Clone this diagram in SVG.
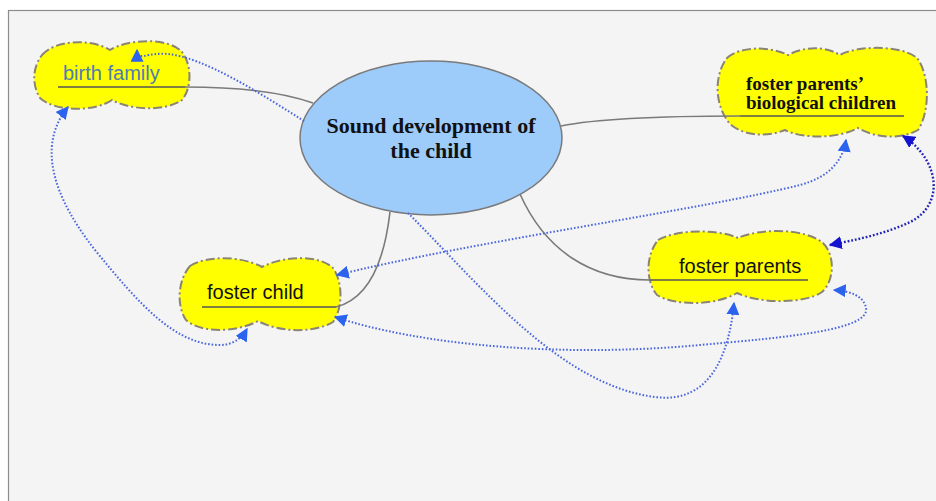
<svg xmlns="http://www.w3.org/2000/svg" width="936" height="501" viewBox="0 0 936 501">
<style>
.cloud{fill:#ffff00;stroke:#8a8474;stroke-width:2;stroke-dasharray:9 3 2 3}
.solid{fill:none;stroke:#7a7a7a;stroke-width:1.6}
.under{fill:none;stroke:#555;stroke-width:1.4}
.dot{fill:none;stroke:#4a66dd;stroke-width:2;stroke-dasharray:1.6 1.9;marker-end:url(#ab);marker-start:url(#ab)}
.dotdark{fill:none;stroke:#2323b8;stroke-width:2.4;stroke-dasharray:1.8 1.9;marker-end:url(#ad);marker-start:url(#ad)}
.sans{font-family:"Liberation Sans",Arial,sans-serif;font-size:20px;fill:#111}
.serif{font-family:"Liberation Serif","Times New Roman",serif;font-weight:bold;fill:#111}
</style>
<defs>
<marker id="ab" viewBox="0 0 10 10" refX="9" refY="5" markerWidth="13" markerHeight="13" markerUnits="userSpaceOnUse" orient="auto-start-reverse"><path d="M0,0 L10,5 L0,10 Z" fill="#2b62ee"/></marker>
<marker id="ad" viewBox="0 0 10 10" refX="9" refY="5" markerWidth="13" markerHeight="13" markerUnits="userSpaceOnUse" orient="auto-start-reverse"><path d="M0,0 L10,5 L0,10 Z" fill="#1212d0"/></marker>
</defs>
<rect x="0" y="0" width="936" height="501" fill="#ffffff"/>
<rect x="8.5" y="10.5" width="940" height="500" fill="#f4f4f4" stroke="#8c8c8c" stroke-width="1.2"/>

<g id="center">
<ellipse cx="431" cy="138" rx="131" ry="77" fill="#9dcbfa" stroke="#7a7a7a" stroke-width="1.5"/>
<text class="serif" font-size="22" x="431" y="133" text-anchor="middle">Sound development of</text>
<text class="serif" font-size="22" x="431" y="158" text-anchor="middle">the child</text>
</g>

<g id="birth-family">
<path class="cloud" d="M 42,55 C 55,40 90,38 110,50 C 130,38 170,38 182,52 C 192,65 192,88 182,100 C 165,112 130,110 112,100 C 95,112 55,112 40,98 C 32,85 32,68 42,55 Z"/>
<text class="sans" font-size="19" x="63" y="80" style="fill:#4f7bb5">birth family</text>
</g>

<g id="bio-children">
<path class="cloud" d="M 727,58 C 740,46 770,46 788,55 C 805,46 825,46 840,55 C 855,46 900,44 917,58 C 930,75 930,112 918,130 C 900,140 875,138 858,128 C 835,140 800,138 785,130 C 765,138 742,135 730,124 C 714,105 714,75 727,58 Z"/>
<text class="serif" font-size="19" x="746" y="90">foster parents’</text>
<text class="serif" font-size="19" x="746" y="109">biological children</text>
</g>

<g id="foster-child">
<path class="cloud" d="M 190,266 C 205,256 240,255 262,267 C 285,255 320,255 333,268 C 343,282 343,308 333,322 C 315,333 280,333 258,321 C 235,333 200,333 186,320 C 176,305 178,280 190,266 Z"/>
<text class="sans" x="207" y="299">foster child</text>
</g>

<g id="foster-parents">
<path class="cloud" d="M 658,240 C 675,230 715,228 738,238 C 760,228 805,228 823,243 C 835,255 835,280 822,292 C 805,304 760,304 737,293 C 715,306 675,306 657,295 C 645,280 646,255 658,240 Z"/>
<text class="sans" x="679" y="273">foster parents</text>
</g>

<g id="connectors">
<path class="under" d="M 58,87 L 185,87"/>
<path class="solid" d="M 185,87 C 240,87 282,92 313,103"/>
<path class="under" d="M 740,116 L 904,116"/>
<path class="solid" d="M 740,116 C 660,116 600,118 561,126"/>
<path class="under" d="M 202,307 L 336,307"/>
<path class="solid" d="M 336,307 C 372,298 385,255 390,212"/>
<path class="under" d="M 650,280 L 808,280"/>
<path class="solid" d="M 650,280 C 590,280 545,250 520,194"/>

<path class="dot" style="marker-start:none" d="M 304,121 C 258,92 205,58 168,54 C 148,52 137,62 137,50"/>
<path class="dot" d="M 68,107 C 45,135 40,180 95,250 C 140,305 175,345 220,345 C 235,345 243,336 247,329"/>
<path class="dot" d="M 337,275 C 480,240 700,210 800,185 C 830,177 843,160 846,140"/>
<path class="dotdark" d="M 903,136 C 940,160 945,205 910,222 C 885,234 855,240 830,245"/>
<path class="dot" d="M 335,317 C 420,345 560,358 700,345 C 790,337 870,330 866,308 C 864,296 850,291 834,290"/>
<path class="dot" style="marker-start:none" d="M 408,213 C 480,285 560,385 655,397 C 715,405 730,345 734,303"/>
</g>
</svg>
